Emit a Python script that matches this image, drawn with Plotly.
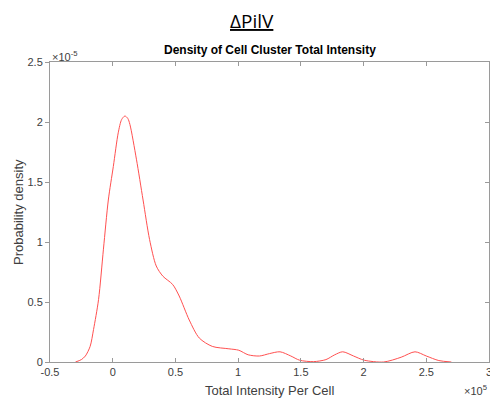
import plotly.graph_objects as go

# Data (x in units of 1e5, density in units of 1e-5)
intensity_e5 = [-0.297, -0.25, -0.218, -0.18, -0.153, -0.113, -0.074, -0.035, 0.005, 0.044,
                0.071, 0.097, 0.12, 0.137, 0.189, 0.242, 0.294, 0.347, 0.40, 0.478,
                0.53, 0.61, 0.69, 0.794, 0.926, 1.005, 1.08, 1.17, 1.25, 1.334,
                1.42, 1.49, 1.60, 1.70, 1.77, 1.834, 1.92, 2.005, 2.16, 2.30,
                2.41, 2.50, 2.60, 2.70]
density_e5 = [0.0, 0.02, 0.05, 0.13, 0.27, 0.52, 0.94, 1.35, 1.63, 1.91,
              2.02, 2.05, 2.03, 1.98, 1.69, 1.35, 1.02, 0.80, 0.715, 0.646,
              0.55, 0.35, 0.20, 0.13, 0.11, 0.098, 0.06, 0.05, 0.07, 0.085,
              0.05, 0.015, 0.003, 0.02, 0.06, 0.085, 0.05, 0.015, 0.0, 0.04,
              0.085, 0.05, 0.012, 0.0]

x_ticks = [-0.5, 0, 0.5, 1, 1.5, 2, 2.5, 3]
x_tick_labels = ["-0.5", "0", "0.5", "1", "1.5", "2", "2.5", "3"]
y_ticks = [0, 0.5, 1, 1.5, 2, 2.5]
y_tick_labels = ["0", "0.5", "1", "1.5", "2", "2.5"]

axis_col = "#9a9a9a"
text_col = "#404040"
font_fam = "Liberation Sans, Arial, sans-serif"

fig = go.Figure()
fig.add_trace(go.Scatter(x=intensity_e5, y=density_e5, mode="lines",
                         line=dict(color="rgb(255,80,80)", width=1, shape="spline", smoothing=0.8),
                         showlegend=False, hoverinfo="skip"))
# invisible trace for right axis ticks
fig.add_trace(go.Scatter(x=[None], y=[None], yaxis="y2", showlegend=False))

# page body has an 8px margin, so the figure is 8px smaller than the window
fig.update_layout(
    width=490, height=393,
    margin=dict(l=42, r=6, t=54, b=39),
    paper_bgcolor="white", plot_bgcolor="white",
    font=dict(family=font_fam, size=11, color=text_col),
    xaxis=dict(range=[-0.5, 3], tickvals=x_ticks, ticktext=x_tick_labels,
               ticks="inside", ticklen=4, tickcolor=axis_col, showline=True,
               linecolor=axis_col, linewidth=1, mirror="ticks", showgrid=False,
               zeroline=False, tickfont=dict(size=11, color=text_col)),
    yaxis=dict(range=[0, 2.5], tickvals=y_ticks, ticktext=y_tick_labels,
               ticks="outside", ticklen=4, tickcolor=axis_col, showline=True,
               linecolor=axis_col, linewidth=1, mirror=True, showgrid=False,
               zeroline=False, tickfont=dict(size=11, color=text_col)),
    yaxis2=dict(range=[0, 2.5], tickvals=y_ticks, overlaying="y", side="right",
                ticks="inside", ticklen=4, tickcolor=axis_col, showticklabels=False,
                showline=False, showgrid=False, zeroline=False),
    annotations=[
        dict(text="<u>ΔPilV</u>", xref="paper", yref="paper", x=0.46, y=1.0,
             yshift=41, xanchor="center", yanchor="middle", showarrow=False,
             font=dict(family="Open Sans, Noto Sans, sans-serif", size=19, color="black")),
        dict(text="<b>Density of Cell Cluster Total Intensity</b>", xref="paper", yref="paper",
             x=0.5, y=1.0, yshift=12, xanchor="center", yanchor="middle", showarrow=False,
             font=dict(size=12, color="black")),
        dict(text="Total Intensity Per Cell", xref="paper", yref="paper",
             x=0.5, y=0.0, yshift=-28, xanchor="center", yanchor="middle", showarrow=False,
             font=dict(size=13, color=text_col)),
        dict(text="Probability density", xref="paper", yref="paper", textangle=-90,
             x=0.0, y=0.5, xshift=-32, xanchor="center", yanchor="middle", showarrow=False,
             font=dict(size=13, color=text_col)),
        dict(text="×10<sup>-5</sup>", xref="paper", yref="paper", x=0.0, y=1.0,
             xanchor="left", yanchor="bottom", xshift=0, yshift=-3, showarrow=False,
             font=dict(size=11, color=text_col)),
        dict(text="×10<sup>5</sup>", xref="paper", yref="paper", x=1.0, y=0.0,
             xanchor="right", yanchor="top", yshift=-19, showarrow=False,
             font=dict(size=11, color=text_col)),
    ],
)

fig.write_html("out.html")
